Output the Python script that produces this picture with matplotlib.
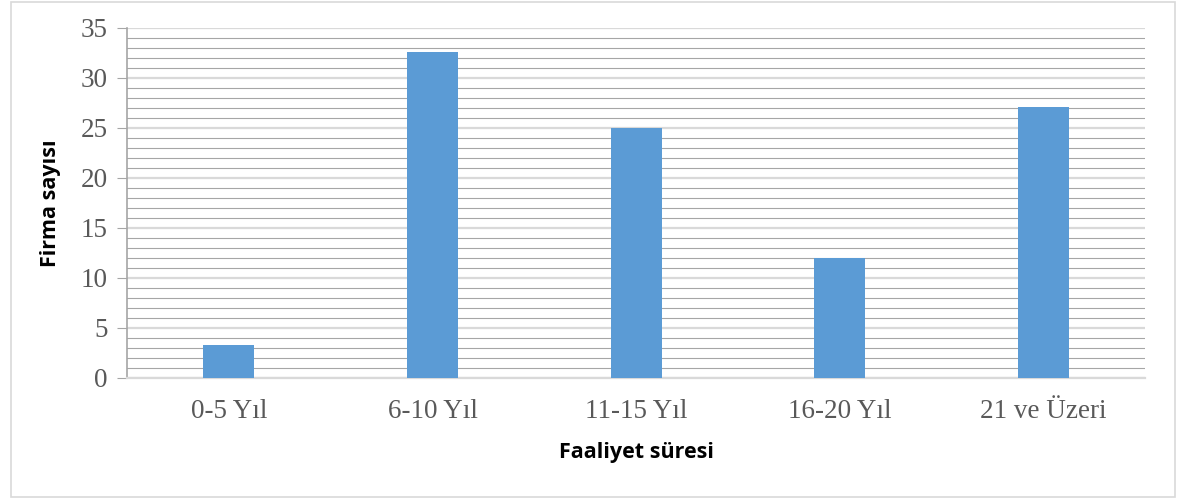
import numpy as np
import matplotlib.pyplot as plt
from matplotlib.patches import Rectangle
from matplotlib.ticker import MultipleLocator

# Faaliyet süresine göre firma dağılımı
categories = ['0-5 Yıl', '6-10 Yıl', '11-15 Yıl', '16-20 Yıl', '21 ve Üzeri']
values = [3.3, 32.6, 25.0, 12.0, 27.1]

bar_color = '#5B9BD5'
text_color = '#595959'

fig = plt.figure(figsize=(11.84, 4.99), dpi=100)
ax = fig.add_axes([0.1073, 0.2425, 0.860, 0.7015])

# dış çerçeve
fig.patches.append(Rectangle((0.009, 0.004), 0.983, 0.992, transform=fig.transFigure,
                             fill=False, edgecolor='#d9d9d9', linewidth=1.2))

x = np.arange(len(categories))
ax.bar(x, values, width=0.25, color=bar_color, zorder=3)

ax.set_xlim(-0.5, len(categories) - 0.5)
ax.set_ylim(0, 35)
ax.yaxis.set_major_locator(MultipleLocator(5))
ax.yaxis.set_minor_locator(MultipleLocator(1))

ax.grid(which='major', axis='y', color='#d9d9d9', linewidth=1.6, zorder=0)
ax.grid(which='minor', axis='y', color='#a6a6a6', linewidth=0.8, zorder=0)

ax.set_xticks(x)
ax.set_xticklabels(categories)
ax.tick_params(axis='x', length=0, pad=15)
ax.tick_params(axis='y', which='major', length=7, color='#a6a6a6', pad=7)
ax.tick_params(axis='y', which='minor', length=0)
for lbl in ax.get_xticklabels() + ax.get_yticklabels():
    lbl.set_fontfamily('Liberation Serif')
    lbl.set_fontsize(19.5)
    lbl.set_color(text_color)

for side in ['top', 'right']:
    ax.spines[side].set_visible(False)
ax.spines['left'].set_color('#a6a6a6')
ax.spines['left'].set_linewidth(1.2)
ax.spines['bottom'].set_color('#d9d9d9')
ax.spines['bottom'].set_linewidth(1.6)

ax.set_xlabel('Faaliyet süresi', fontfamily='Open Sans', fontweight='bold',
              fontsize=15.5, labelpad=13)
ax.set_ylabel('Firma sayısı', fontfamily='Open Sans', fontweight='bold',
              fontsize=15.5, labelpad=14)

fig.savefig('out.png', dpi=100)
